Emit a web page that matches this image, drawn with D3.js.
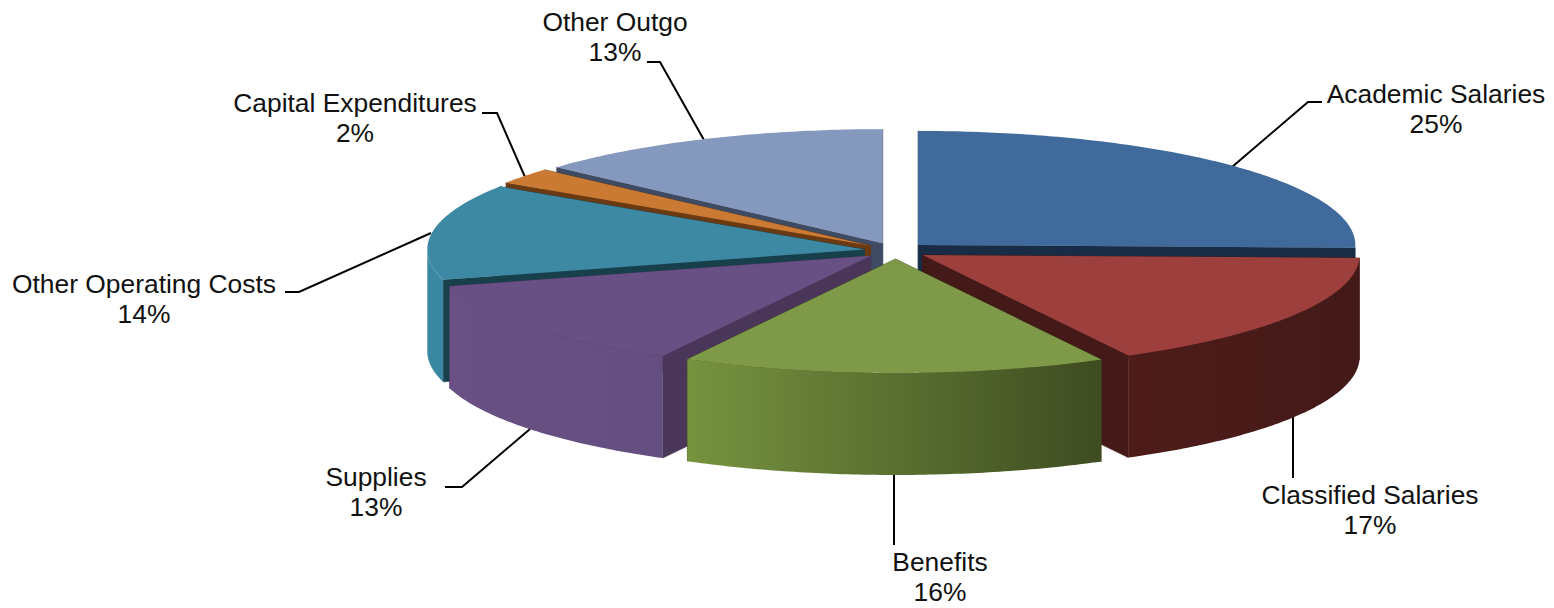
<!DOCTYPE html>
<html>
<head>
<meta charset="utf-8">
<script src="https://cdnjs.cloudflare.com/ajax/libs/d3/7.8.5/d3.min.js"></script>
<style>
  html, body { margin: 0; padding: 0; background: #fff; }
  svg { display: block; }
  text { font-family: "Liberation Sans", Arial, sans-serif; font-size: 26.4px; fill: #111; }
</style>
</head>
<body>
<script>
var categories = ["Academic Salaries", "Classified Salaries", "Benefits", "Supplies", "Other Operating Costs", "Capital Expenditures", "Other Outgo"];
var values = [25.4, 16.8, 15.7, 12.8, 13.6, 2.3, 13.4];
var percentLabels = ["25%", "17%", "16%", "13%", "14%", "2%", "13%"];

// colours per slice: top, cut face, wall gradient stops
var topColors = ["#3f6a9b", "#9c3f3d", "#7e9a48", "#685084", "#3d88a2", "#cb7a34", "#8499bd"];
var cutColors = ["#182c46", "#431a17", "#3f4d22", "#4a3659", "#173f4c", "#6a3a12", "#3f4a63"];
var wallColors = [
  ["#2b4a70", "#2b4a70"],
  ["#4e1c19", "#431a18"],
  ["#76933f", "#3e4c21"],
  ["#6a5084", "#644e80"],
  ["#3b88a2", "#3a87a1"],
  ["#8a5020", "#8a5020"],
  ["#5a6a88", "#5a6a88"]
];

// label placement: centre x, baseline y of first line, leader polyline
var labelLayout = [
  { x: 1436, y: 103, leader: [[1232, 167], [1308, 102], [1322, 102]] },
  { x: 1370, y: 504, leader: [[1293, 417], [1293, 478]] },
  { x: 940, y: 571, leader: [[894, 475], [894, 545]] },
  { x: 376, y: 486, leader: [[530, 429], [462, 487], [445, 487]] },
  { x: 144, y: 293, leader: [[431, 233], [299, 292], [285, 292]] },
  { x: 355, y: 112, leader: [[525, 177], [497, 113], [482, 113]] },
  { x: 615, y: 31, leader: [[704, 140], [660, 62], [647, 62]] }
];

// back to front
var drawOrder = [6, 0, 5, 4, 3, 1, 2];

var width = 1554, height = 608;
var cx = 895.6, cy = 250.7;
var rx = 437, ry = 114, depth = 102, explode = 31.7;

var svg = d3.select("body").append("svg")
  .attr("width", width)
  .attr("height", height);

svg.append("rect").attr("width", width).attr("height", height).attr("fill", "#fff");

var pie = d3.pie().sort(null).value(function (d) { return d; })
  .startAngle(0).endAngle(2 * Math.PI);
var arcs = pie(values);

var xScale = d3.scaleLinear().domain([-1, 1]).range([-rx, rx]);
var yScale = d3.scaleLinear().domain([-1, 1]).range([ry, -ry]);
var line = d3.line();

function offset(d) {
  var m = (d.startAngle + d.endAngle) / 2;
  return [cx + explode * Math.sin(m), cy - explode * (ry / rx) * Math.cos(m)];
}

function rim(d, a, dz) {
  var o = offset(d);
  return [o[0] + xScale(Math.sin(a)), o[1] + yScale(Math.cos(a)) + dz];
}

function arcPoints(d, a0, a1, dz) {
  var n = Math.max(2, Math.ceil((a1 - a0) * 80)), pts = [];
  for (var i = 0; i <= n; i++) pts.push(rim(d, a0 + (a1 - a0) * i / n, dz));
  return pts;
}

var defs = svg.append("defs");
wallColors.forEach(function (c, i) {
  var d = arcs[i];
  var a0 = Math.max(d.startAngle, Math.PI / 2), a1 = Math.min(d.endAngle, 3 * Math.PI / 2);
  if (a1 <= a0) return;
  var xs = [rim(d, a0, 0)[0], rim(d, a1, 0)[0]];
  var g = defs.append("linearGradient")
    .attr("id", "wall" + i)
    .attr("gradientUnits", "userSpaceOnUse")
    .attr("x1", d3.min(xs)).attr("x2", d3.max(xs))
    .attr("y1", 0).attr("y2", 0);
  g.append("stop").attr("offset", "0%").attr("stop-color", c[0]);
  g.append("stop").attr("offset", "100%").attr("stop-color", c[1]);
});

// leader lines sit under the pie
svg.append("g").selectAll("path")
  .data(labelLayout)
  .enter().append("path")
  .attr("d", function (d) { return line(d.leader); })
  .attr("fill", "none")
  .attr("stroke", "#000")
  .attr("stroke-width", 2);

drawOrder.forEach(function (i) {
  var d = arcs[i];
  var g = svg.append("g").attr("class", "slice");
  var o = offset(d);
  var apexBottom = [o[0], o[1] + depth];

  // cut faces, stroked a little so no pale seam shows at the wall
  [d.startAngle, d.endAngle].forEach(function (a) {
    g.append("path")
      .attr("d", line([o, rim(d, a, 0), rim(d, a, depth), apexBottom]) + "Z")
      .attr("fill", cutColors[i])
      .attr("stroke", cutColors[i])
      .attr("stroke-width", 0.6);
  });

  // outer wall, only the part that faces the viewer
  var a0 = Math.max(d.startAngle, Math.PI / 2), a1 = Math.min(d.endAngle, 3 * Math.PI / 2);
  if (a1 > a0) {
    var wall = arcPoints(d, a0, a1, 0).concat(arcPoints(d, a0, a1, depth).reverse());
    g.append("path")
      .attr("d", line(wall) + "Z")
      .attr("fill", "url(#wall" + i + ")");
  }

  // top
  g.append("path")
    .attr("d", line([o].concat(arcPoints(d, d.startAngle, d.endAngle, 0))) + "Z")
    .attr("fill", topColors[i]);
});

// labels
var labels = svg.append("g").selectAll("text")
  .data(categories)
  .enter().append("text")
  .attr("text-anchor", "middle")
  .attr("x", function (d, i) { return labelLayout[i].x; })
  .attr("y", function (d, i) { return labelLayout[i].y; });
labels.append("tspan").text(function (d) { return d; });
labels.append("tspan")
  .attr("x", function (d, i) { return labelLayout[i].x; })
  .attr("dy", 30)
  .text(function (d, i) { return percentLabels[i]; });
</script>
</body>
</html>
